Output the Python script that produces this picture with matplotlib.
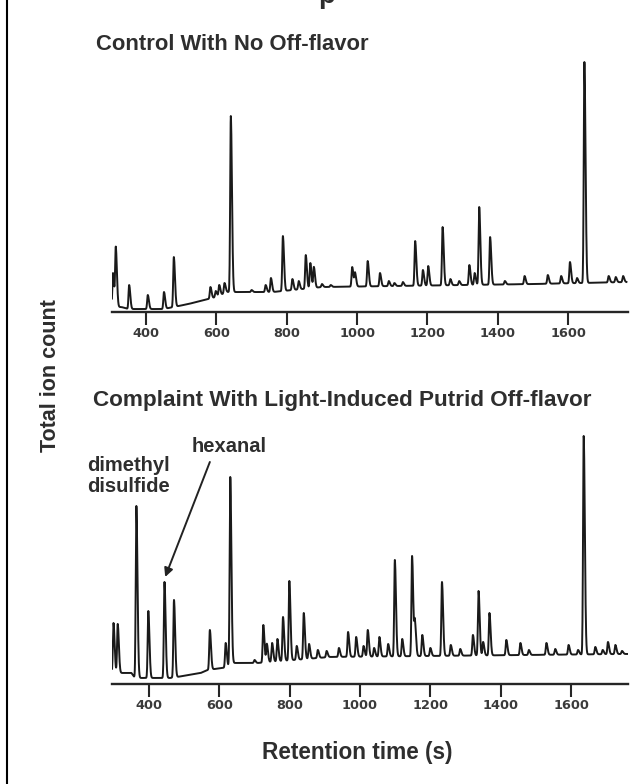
import numpy as np
import matplotlib.pyplot as plt
from matplotlib.lines import Line2D

plt.rcParams['font.family'] = ['Liberation Sans', 'DejaVu Sans']

# --- control sample: peak tops (retention time s, relative counts) ---
control_rt = [306, 314, 352, 405, 451, 479, 583, 598, 608, 623, 641, 700,
              740, 755, 789, 816, 834, 854, 867, 877, 900, 925, 986, 994,
              1030, 1065, 1090, 1106, 1130, 1165, 1187, 1202, 1243, 1265,
              1290, 1319, 1334, 1347, 1378, 1420, 1476, 1542, 1580, 1605,
              1625, 1646, 1715, 1735, 1756]
control_top = [39, 64, 27, 17, 20, 55, 25, 21, 27, 29, 196, 22,
               27, 34, 76, 33, 31, 57, 49, 45, 28, 27, 45, 39,
               51, 39, 31, 29, 30, 71, 42, 46, 85, 33,
               31, 47, 39, 105, 75, 31, 36, 37, 36, 50,
               34, 250, 36, 35, 36]
control_base_rt = [303, 330, 350, 450, 520, 600, 630, 760, 900, 1500, 1766]
control_base = [5, 5, 3, 3, 8, 15, 20, 20, 25, 28, 30]

# --- complaint sample (light-induced putrid off-flavor) ---
complaint_rt = [299, 311, 364, 398, 444, 471, 573, 618, 631, 700, 725, 735,
                750, 765, 781, 799, 820, 840, 855, 880, 905, 940, 966, 989,
                1010, 1022, 1040, 1055, 1080, 1099, 1120, 1148, 1156, 1177,
                1200, 1233, 1258, 1285, 1321, 1337, 1350, 1368, 1416, 1456,
                1480, 1530, 1555, 1593, 1620, 1636, 1669, 1690, 1705, 1726,
                1745]
complaint_top = [61, 60, 178, 73, 102, 84, 54, 41, 207, 24, 59, 40,
                 41, 45, 67, 103, 38, 71, 40, 34, 33, 36, 52, 47,
                 38, 54, 36, 47, 40, 124, 45, 128, 61, 49,
                 36, 102, 39, 35, 49, 93, 42, 71, 44, 41,
                 34, 41, 35, 39, 34, 248, 37, 34, 42, 39,
                 33]
complaint_base_rt = [295, 350, 360, 460, 480, 547, 567, 628, 640, 710, 915, 1760]
complaint_base = [11, 11, 6, 6, 7, 11, 14, 17, 21, 21, 27, 30]

xticks = [400, 600, 800, 1000, 1200, 1400, 1600]
ink = '#1a1a1a'
txt = '#2e2e2e'
W, H = 639, 784


def trace(rt, top, base_rt, base, t0, t1):
    t = np.arange(t0, t1, 0.5)
    b = np.interp(t, base_rt, base)
    y = b.copy()
    for r, h in zip(rt, top):
        amp = h - np.interp(r, base_rt, base)
        sig = np.where(t < r, 1.8, 3.2)  # slight tailing like GC peaks
        y += amp * np.exp(-0.5 * ((t - r) / sig) ** 2)
    return t, y


def panel(ax, t, y, xlim):
    ax.plot(t, y, color=ink, lw=1.4)
    ax.set_xlim(*xlim)
    ax.set_ylim(0, 260)
    for s in ['top', 'right', 'left']:
        ax.spines[s].set_visible(False)
    ax.spines['bottom'].set_linewidth(1.7)
    ax.spines['bottom'].set_color('#262626')
    ax.set_yticks([])
    ax.set_xticks(xticks)
    ax.set_xticklabels([str(v) for v in xticks], fontsize=9.3,
                       fontweight='bold', color='#3a3a3a',
                       family='DejaVu Sans')
    ax.tick_params(axis='x', direction='out', length=9, width=1.5,
                   color='#262626', pad=2)


fig = plt.figure(figsize=(W / 100, H / 100), dpi=100)

ax1 = fig.add_axes([0.1753, 0.602, 0.8075, 0.3316])
t1, y1 = trace(control_rt, control_top, control_base_rt, control_base, 303, 1766)
panel(ax1, t1, y1, (303.3, 1770))

ax2 = fig.add_axes([0.1753, 0.1276, 0.8075, 0.3316])
t2, y2 = trace(complaint_rt, complaint_top, complaint_base_rt, complaint_base, 295, 1760)
panel(ax2, t2, y2, (294.8, 1762))

fig.text(96 / W, 1 - 50 / H, 'Control With No Off-flavor', fontsize=15.8,
         fontweight='bold', color=txt, ha='left', va='baseline')
fig.text(93 / W, 1 - 406 / H, 'Complaint With Light-Induced Putrid Off-flavor',
         fontsize=16.2, fontweight='bold', color=txt, ha='left', va='baseline')

ax2.text(224, 208, 'dimethyl\ndisulfide', fontsize=14.5, fontweight='bold',
         color=txt, ha='left', va='center', linespacing=1.1, clip_on=False)
ax2.text(627, 237, 'hexanal', fontsize=14.5, fontweight='bold', color=txt,
         ha='center', va='center')
ax2.annotate('', xy=(446, 107), xytext=(573, 222), annotation_clip=False,
             arrowprops=dict(arrowstyle='-|>', color='#222222', lw=1.4,
                             shrinkA=0, shrinkB=0, mutation_scale=13))

fig.text(51 / W, 1 - 376 / H, 'Total ion count', rotation=90, fontsize=15.5,
         fontweight='bold', color=txt, ha='center', va='center')
fig.text(357 / W, 1 - 752 / H, 'Retention time (s)', fontsize=16.3,
         fontweight='bold', color=txt, ha='center', va='center')

# cut-off heading fragment at the top edge of the scan
fig.text(318 / W, 1 - 3 / H, 'p', fontsize=20, fontweight='bold', color=txt,
         ha='left', va='baseline')

# scan border on the left edge
fig.add_artist(Line2D([0.0117, 0.0117], [0, 1], color='black', lw=1.5))

fig.savefig('out.png', dpi=100)
